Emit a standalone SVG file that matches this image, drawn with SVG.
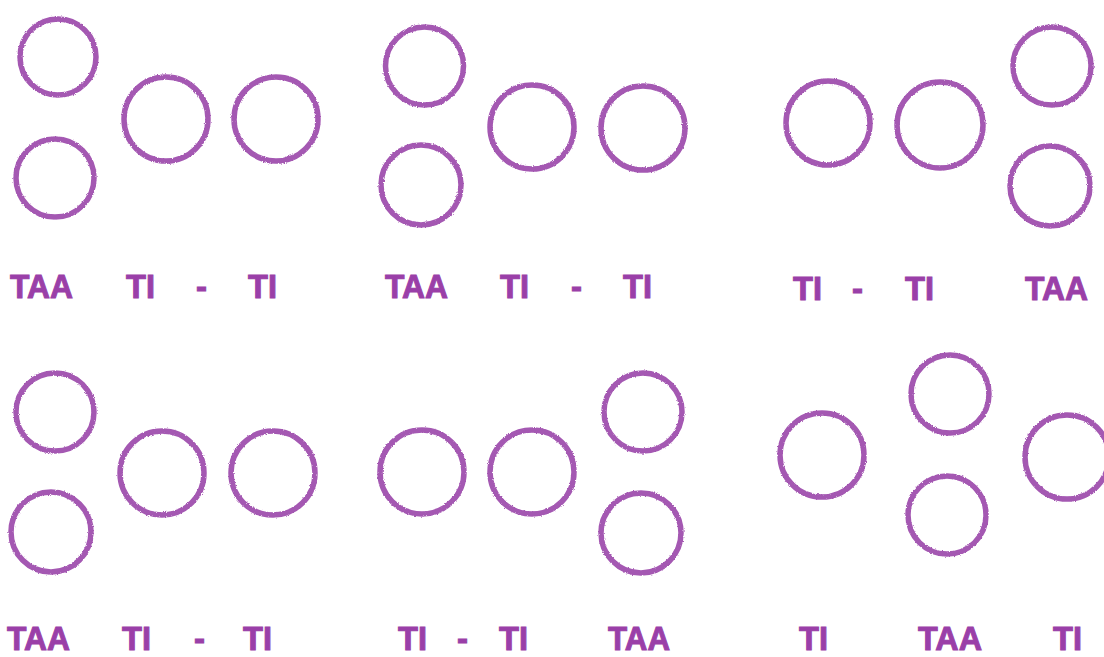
<svg xmlns="http://www.w3.org/2000/svg" width="1104" height="657" viewBox="0 0 1104 657">
<defs>
<filter id="grain" x="-10%" y="-10%" width="120%" height="120%">
<feTurbulence type="fractalNoise" baseFrequency="0.9" numOctaves="2" seed="3" result="n"/>
<feDisplacementMap in="SourceGraphic" in2="n" scale="2.5" xChannelSelector="R" yChannelSelector="G"/>
</filter>
</defs>
<style>
.c{fill:none;stroke:#a458b2;stroke-width:5.5;filter:url(#grain)}
.t{font-family:"Liberation Sans",Arial,sans-serif;font-weight:bold;font-size:33px;fill:#9a3fa8;stroke:#9a3fa8;stroke-width:1}
</style>
<rect width="1104" height="657" fill="#ffffff"/>
<g id="panel1">
<circle id="p1-taa1" class="c" cx="58" cy="57" r="38"/>
<circle id="p1-taa2" class="c" cx="55" cy="178" r="39"/>
<circle id="p1-ti1" class="c" cx="166" cy="119" r="42"/>
<circle id="p1-ti2" class="c" cx="276" cy="119" r="42"/>
<text class="t" x="10" y="298" textLength="63" lengthAdjust="spacingAndGlyphs">TAA</text>
<text class="t" x="126" y="298" textLength="29" lengthAdjust="spacingAndGlyphs">TI</text>
<text class="t" x="196" y="298">-</text>
<text class="t" x="248" y="298" textLength="29" lengthAdjust="spacingAndGlyphs">TI</text>
</g>
<g id="panel2">
<circle id="p2-taa1" class="c" cx="424.5" cy="66" r="39"/>
<circle id="p2-taa2" class="c" cx="421" cy="185" r="40"/>
<circle id="p2-ti1" class="c" cx="532" cy="127" r="42"/>
<circle id="p2-ti2" class="c" cx="643" cy="128" r="42"/>
<text class="t" x="385" y="298" textLength="63" lengthAdjust="spacingAndGlyphs">TAA</text>
<text class="t" x="500" y="298" textLength="29" lengthAdjust="spacingAndGlyphs">TI</text>
<text class="t" x="571" y="298">-</text>
<text class="t" x="623" y="298" textLength="29" lengthAdjust="spacingAndGlyphs">TI</text>
</g>
<g id="panel3">
<circle id="p3-ti1" class="c" cx="828" cy="123" r="42"/>
<circle id="p3-ti2" class="c" cx="940" cy="125" r="43"/>
<circle id="p3-taa1" class="c" cx="1052" cy="66" r="39"/>
<circle id="p3-taa2" class="c" cx="1050" cy="186" r="40"/>
<text class="t" x="793" y="300" textLength="29" lengthAdjust="spacingAndGlyphs">TI</text>
<text class="t" x="852" y="300">-</text>
<text class="t" x="905" y="300" textLength="29" lengthAdjust="spacingAndGlyphs">TI</text>
<text class="t" x="1025" y="300" textLength="63" lengthAdjust="spacingAndGlyphs">TAA</text>
</g>
<g id="panel4">
<circle id="p4-taa1" class="c" cx="55" cy="412" r="39"/>
<circle id="p4-taa2" class="c" cx="51" cy="532" r="40"/>
<circle id="p4-ti1" class="c" cx="162" cy="473" r="42"/>
<circle id="p4-ti2" class="c" cx="273" cy="473" r="42"/>
<text class="t" x="7" y="650" textLength="63" lengthAdjust="spacingAndGlyphs">TAA</text>
<text class="t" x="122" y="650" textLength="29" lengthAdjust="spacingAndGlyphs">TI</text>
<text class="t" x="194" y="650">-</text>
<text class="t" x="243" y="650" textLength="29" lengthAdjust="spacingAndGlyphs">TI</text>
</g>
<g id="panel5">
<circle id="p5-ti1" class="c" cx="422" cy="472" r="42"/>
<circle id="p5-ti2" class="c" cx="532" cy="472" r="42"/>
<circle id="p5-taa1" class="c" cx="643" cy="412" r="39"/>
<circle id="p5-taa2" class="c" cx="641" cy="533" r="40"/>
<text class="t" x="398" y="650" textLength="29" lengthAdjust="spacingAndGlyphs">TI</text>
<text class="t" x="457" y="650">-</text>
<text class="t" x="499" y="650" textLength="29" lengthAdjust="spacingAndGlyphs">TI</text>
<text class="t" x="608" y="650" textLength="62" lengthAdjust="spacingAndGlyphs">TAA</text>
</g>
<g id="panel6">
<circle id="p6-ti1" class="c" cx="822" cy="455" r="42"/>
<circle id="p6-taa1" class="c" cx="950" cy="394" r="39"/>
<circle id="p6-taa2" class="c" cx="947" cy="515" r="39"/>
<circle id="p6-ti2" class="c" cx="1067" cy="457" r="42"/>
<text class="t" x="799" y="650" textLength="29" lengthAdjust="spacingAndGlyphs">TI</text>
<text class="t" x="918" y="650" textLength="64" lengthAdjust="spacingAndGlyphs">TAA</text>
<text class="t" x="1053" y="650" textLength="29" lengthAdjust="spacingAndGlyphs">TI</text>
</g>
</svg>
